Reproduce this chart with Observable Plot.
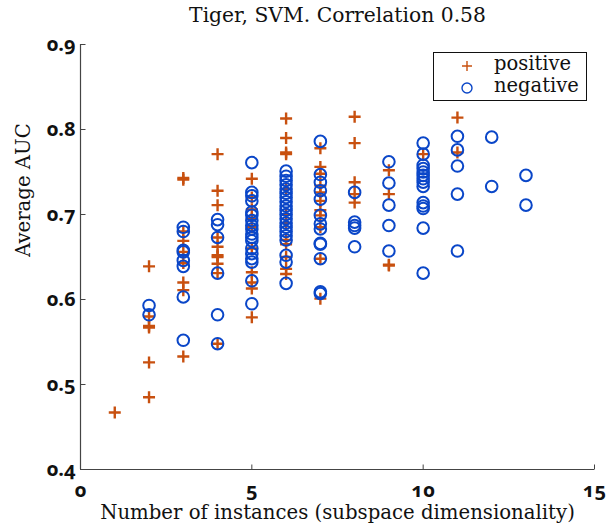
<!DOCTYPE html>
<html>
<head>
<meta charset="utf-8">
<script src="https://cdn.jsdelivr.net/npm/d3@7"></script>
<script src="https://cdn.jsdelivr.net/npm/@observablehq/plot@0.6"></script>
<style>
  body { margin: 0; background: #fff; }
  #wrap { position: relative; width: 612px; height: 525px; }
  #chart { position: absolute; left: 0; top: 0; }
  #legend { position: absolute; left: 433px; top: 52px; width: 152px; height: 47px;
    border: 1.3px solid #111; background: #fff; font-family: "DejaVu Serif", serif; font-size: 19.5px; color: #111; }
  #legend .row { position: absolute; left: 0; width: 152px; height: 22px; }
  #legend svg { position: absolute; left: 26px; top: 4px; }
  #legend span { position: absolute; left: 60px; top: -2px; line-height: 22px; white-space: nowrap; }
  svg text.tick { font-family: "Open Sans", sans-serif; font-weight: 700; font-size: 20px;
    font-variant-numeric: oldstyle-nums; font-feature-settings: "onum" 1; fill: #111; }
  svg text.lab { font-family: "DejaVu Serif", serif; font-size: 19.7px; fill: #111; }
  svg text.ttl { font-family: "DejaVu Serif", serif; font-size: 20.3px; fill: #111; }
</style>
</head>
<body>
<div id="wrap">
  <div id="chart"></div>
  <div id="legend"></div>
</div>
<script>
const titleText = "Tiger, SVM. Correlation 0.58";
const xLabel = "Number of instances (subspace dimensionality)";
const yLabel = "Average AUC";
const seriesNames = ["positive", "negative"];
const seriesColors = ["#c8500f", "#0a46c8"];
const xTicks = [0, 5, 10, 15];
const yTicks = [0.4, 0.5, 0.6, 0.7, 0.8, 0.9];

const posX = [1,
  2,2,2,2,2,2,
  3,3,3,3,3,3,3,3,3,
  4,4,4,4,4,4,4,4,4,4,
  5,5,5,5,5,5,5,5,5,5,
  6,6,6,6,6,6,6,6,6,6,6,6,
  7,7,7,7,7,7,7,7,7,7,7,
  8,8,8,8,8,
  9,9,9,9,
  10,
  11,11];
const posY = [0.467,
  0.639,0.580,0.569,0.567,0.526,0.485,
  0.743,0.741,0.680,0.669,0.656,0.643,0.620,0.611,0.533,
  0.771,0.728,0.711,0.673,0.662,0.652,0.650,0.642,0.631,0.548,
  0.742,0.720,0.706,0.695,0.685,0.660,0.632,0.620,0.613,0.579,
  0.813,0.790,0.773,0.771,0.730,0.700,0.690,0.670,0.665,0.650,0.636,0.630,
  0.778,0.756,0.748,0.734,0.726,0.716,0.705,0.699,0.685,0.648,0.601,
  0.815,0.784,0.738,0.724,0.714,
  0.752,0.724,0.641,0.640,
  0.771,
  0.814,0.773];

const negX = [2,2,
  3,3,3,3,3,3,3,3,
  4,4,4,4,4,4,
  5,5,5,5,5,5,5,5,5,5,5,5,5,5,5,5,5,5,
  6,6,6,6,6,6,6,6,6,6,6,6,6,6,6,6,6,6,6,6,
  7,7,7,7,7,7,7,7,7,7,7,7,7,
  8,8,8,8,8,
  9,9,9,9,9,
  10,10,10,10,10,10,10,10,10,10,10,10,10,10,
  11,11,11,11,11,
  12,12,
  13,13];
const negY = [0.593,0.582,
  0.685,0.680,0.658,0.656,0.646,0.639,0.603,0.552,
  0.694,0.688,0.673,0.631,0.582,0.548,
  0.761,0.726,0.722,0.716,0.703,0.699,0.693,0.687,0.683,0.677,0.673,0.669,0.660,0.654,0.648,0.644,0.622,0.595,
  0.751,0.745,0.740,0.735,0.730,0.725,0.720,0.715,0.710,0.705,0.700,0.695,0.690,0.685,0.680,0.675,0.670,0.652,0.644,0.619,
  0.786,0.747,0.738,0.728,0.718,0.699,0.689,0.683,0.666,0.665,0.648,0.609,0.607,
  0.726,0.691,0.687,0.684,0.662,
  0.762,0.737,0.711,0.687,0.657,
  0.784,0.771,0.758,0.754,0.750,0.746,0.742,0.738,0.733,0.714,0.710,0.707,0.684,0.631,
  0.792,0.776,0.757,0.724,0.657,
  0.791,0.733,
  0.746,0.711];

const positive = posX.map((x, i) => ({x, y: posY[i]}));
const negative = negX.map((x, i) => ({x, y: negY[i]}));

const plusSymbol = {
  draw(context, size) {
    const r = Math.sqrt(size / Math.PI);
    context.moveTo(-r, 0); context.lineTo(r, 0);
    context.moveTo(0, -r); context.lineTo(0, r);
  }
};
const tickUp = { draw(context) { context.moveTo(0, 0); context.lineTo(0, -5); } };
const tickRight = { draw(context) { context.moveTo(0, 0); context.lineTo(5, 0); } };

const yMin = yTicks[0];
const xMin = xTicks[0];

const chart = Plot.plot({
  width: 612,
  height: 525,
  marginLeft: 80,
  marginRight: 18,
  marginTop: 44,
  marginBottom: 56,
  x: {domain: [xTicks[0], xTicks[xTicks.length - 1]], axis: null},
  y: {domain: [yTicks[0], yTicks[yTicks.length - 1]], axis: null},
  marks: [
    Plot.ruleX([xMin], {stroke: "#444", strokeWidth: 1.2}),
    Plot.ruleY([yMin], {stroke: "#444", strokeWidth: 1.2}),
    Plot.dot(xTicks, {x: d => d, y: () => yMin, symbol: tickUp, stroke: "#444", strokeWidth: 1}),
    Plot.dot(yTicks, {y: d => d, x: () => xMin, symbol: tickRight, stroke: "#444", strokeWidth: 1}),
    Plot.text(xTicks, {x: d => d, frameAnchor: "bottom", dy: 21, lineAnchor: "middle", text: d => String(d), className: "tick"}),
    Plot.text(yTicks, {y: d => d, frameAnchor: "left", dx: -5, textAnchor: "end", lineAnchor: "middle", text: d => d.toFixed(1), className: "tick"}),
    Plot.dot(positive, {x: "x", y: "y", symbol: plusSymbol, r: 6, stroke: seriesColors[0], strokeWidth: 2.4, fill: "none"}),
    Plot.dot(negative, {x: "x", y: "y", r: 5.8, stroke: seriesColors[1], strokeWidth: 2, fill: "none"}),
    Plot.text([titleText], {frameAnchor: "top", dy: -29, lineAnchor: "middle", text: d => d, className: "ttl"}),
    Plot.text([xLabel], {frameAnchor: "bottom", dy: 43, lineAnchor: "middle", text: d => d, className: "lab"}),
    Plot.text([yLabel], {frameAnchor: "left", dx: -57, dy: 0, rotate: -90, lineAnchor: "middle", text: d => d, className: "lab"})
  ]
});
document.getElementById("chart").appendChild(chart);

// apply classes to the text elements so CSS fonts take effect
["tick", "lab", "ttl"].forEach(c => {
  chart.querySelectorAll(`g.${c} text, g[class*="${c}"] text`).forEach(t => t.setAttribute("class", c));
});

const legend = document.getElementById("legend");
seriesNames.forEach((name, i) => {
  const row = document.createElement("div");
  row.className = "row";
  row.style.top = (2 + i * 22) + "px";
  const sym = i === 0
    ? `<svg width="14" height="14"><path d="M2,7H12M7,2V12" stroke="${seriesColors[0]}" stroke-width="1.4"/></svg>`
    : `<svg width="14" height="14"><circle cx="7" cy="7" r="5" fill="none" stroke="${seriesColors[1]}" stroke-width="1.4"/></svg>`;
  row.innerHTML = sym + `<span>${name}</span>`;
  legend.appendChild(row);
});
</script>
</body>
</html>
